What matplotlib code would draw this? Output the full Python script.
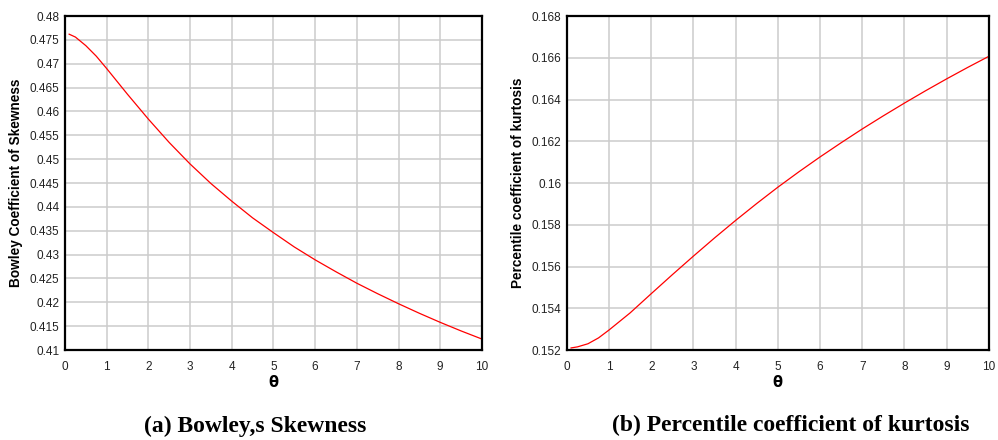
import matplotlib.pyplot as plt

theta = [0.1, 0.25, 0.5, 0.75, 1, 1.5, 2, 2.5, 3, 3.5, 4, 4.5, 5, 5.5, 6, 6.5, 7, 7.5, 8, 8.5, 9, 9.5, 10]
bowley = [0.4762, 0.4756, 0.4738, 0.4716, 0.4690, 0.4636, 0.4584, 0.4535, 0.4490, 0.4449, 0.4412, 0.4377,
          0.4346, 0.4316, 0.4289, 0.4264, 0.4240, 0.4218, 0.4197, 0.4177, 0.4158, 0.4140, 0.4123]
kurt = [0.15210, 0.15215, 0.15230, 0.15258, 0.15296, 0.15378, 0.15470, 0.15561, 0.15650, 0.15737, 0.15821,
        0.15902, 0.15980, 0.16054, 0.16125, 0.16193, 0.16259, 0.16322, 0.16383, 0.16442, 0.16499, 0.16554,
        0.16607]

bowley_ticks = [0.41, 0.415, 0.42, 0.425, 0.43, 0.435, 0.44, 0.445, 0.45, 0.455, 0.46, 0.465, 0.47, 0.475, 0.48]
bowley_labels = ['0.41', '0.415', '0.42', '0.425', '0.43', '0.435', '0.44', '0.445', '0.45', '0.455',
                 '0.46', '0.465', '0.47', '0.475', '0.48']
kurt_ticks = [0.152, 0.154, 0.156, 0.158, 0.16, 0.162, 0.164, 0.166, 0.168]
kurt_labels = ['0.152', '0.154', '0.156', '0.158', '0.16', '0.162', '0.164', '0.166', '0.168']

plt.rcParams['font.family'] = 'Liberation Sans'

fig = plt.figure(figsize=(9.98, 4.4), dpi=100)
ax1 = fig.add_axes([0.0651, 0.2045, 0.4178, 0.759])
ax2 = fig.add_axes([0.568, 0.2045, 0.4228, 0.759])


def style(ax, yticks, ylabels, ylim, ylab):
    ax.set_xlim(0, 10)
    ax.set_ylim(*ylim)
    ax.set_xticks(range(11))
    ax.set_yticks(yticks)
    ax.set_yticklabels(ylabels)
    ax.grid(True, color='#cccccc', linewidth=1.1)
    ax.set_axisbelow(True)
    ax.tick_params(length=0, labelsize=8.5, colors='#222222')
    ax.tick_params(axis='y', pad=4)
    ax.tick_params(axis='x', pad=8)
    for s in ax.spines.values():
        s.set_linewidth(1.6)
        s.set_color('black')
    ax.set_xlabel('θ', fontsize=10.5, fontweight='bold', family='DejaVu Sans', labelpad=1.5)
    ax.set_ylabel(ylab, fontsize=9.8, fontweight='bold', labelpad=5)


ax1.plot(theta, bowley, color='red', linewidth=0.9)
style(ax1, bowley_ticks, bowley_labels, (0.41, 0.48), 'Bowley Coefficient of Skewness')

ax2.plot(theta, kurt, color='red', linewidth=0.9)
style(ax2, kurt_ticks, kurt_labels, (0.152, 0.168), 'Percentile coefficient of kurtosis')

fig.text(0.256, 0.032, '(a) Bowley,s Skewness', ha='center', va='center',
         family='Liberation Serif', fontweight='bold', fontsize=17)
fig.text(0.792, 0.032, '(b) Percentile coefficient of kurtosis', ha='center', va='center',
         family='Liberation Serif', fontweight='bold', fontsize=17)

fig.savefig('out.png', dpi=100)
